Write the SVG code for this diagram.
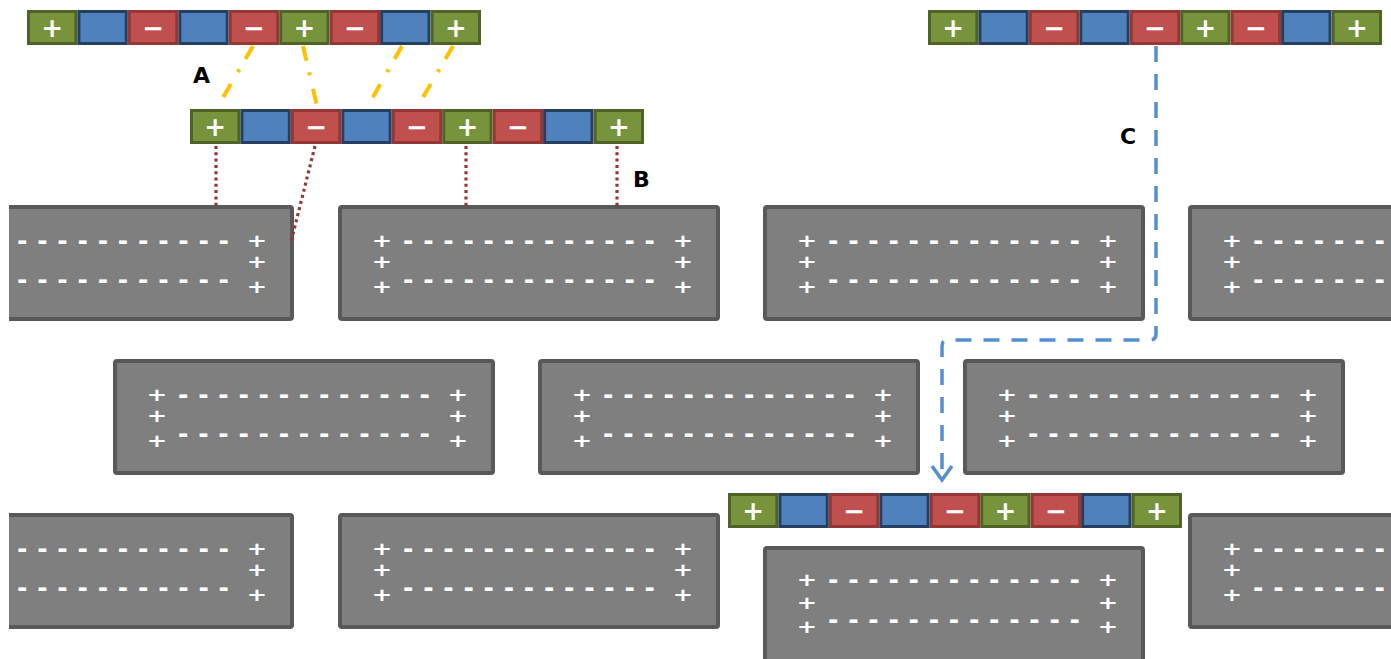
<svg xmlns="http://www.w3.org/2000/svg" width="1391" height="659" viewBox="0 0 1391 659">
<style>
.g{fill:#77933c;stroke:#4f6228;stroke-width:3}
.b{fill:#4f81bd;stroke:#243f60;stroke-width:3}
.r{fill:#c0504d;stroke:#953735;stroke-width:3}
.sym{fill:#fff;font-family:"DejaVu Sans",Verdana,sans-serif;font-weight:bold;font-size:26px;text-anchor:middle;dominant-baseline:central}
.blk{fill:#7f7f7f;stroke:#595959;stroke-width:4}
.bp{fill:#fff;font-family:"DejaVu Sans",Verdana,sans-serif;font-weight:bold;font-size:18px;text-anchor:middle;dominant-baseline:central}
.bd{fill:#fff;font-family:"DejaVu Sans",Verdana,sans-serif;font-weight:bold;font-size:25px;dominant-baseline:central}
.lbl{fill:#000;font-family:"DejaVu Sans",Verdana,sans-serif;font-weight:bold;font-size:22px}
.ca{fill:none;stroke:#ffc000;stroke-width:4;stroke-dasharray:15 12 3 14}
.cb{fill:none;stroke:#953735;stroke-width:3.2;stroke-dasharray:3 3.3}
.cc{fill:none;stroke:#558ed5;stroke-width:3.5}
</style>
<defs>
<clipPath id="clipL"><rect x="9" y="0" width="400" height="659"/></clipPath>
</defs>
<rect x="0" y="0" width="1391" height="659" fill="#fff"/>

<!-- Gray blocks row 1 -->
<g id="block-r1c1" clip-path="url(#clipL)"><g transform="translate(-86,207)">
<rect class="blk" x="0" y="0" width="378" height="112" rx="2"/>
<text class="bp" transform="translate(343,0) scale(1.35,1)"><tspan x="0" y="33">+</tspan><tspan x="0" y="54">+</tspan><tspan x="0" y="79">+</tspan></text>
<text class="bd" x="103" y="33" textLength="212" lengthAdjust="spacing">- - - - - - - - - - -</text>
<text class="bd" x="103" y="72" textLength="212" lengthAdjust="spacing">- - - - - - - - - - -</text>
</g></g>
<g id="block-r1c2" transform="translate(340,207)">
<rect class="blk" x="0" y="0" width="378" height="112" rx="2"/>
<text class="bp" transform="translate(42,0) scale(1.35,1)"><tspan x="0" y="33">+</tspan><tspan x="0" y="54">+</tspan><tspan x="0" y="79">+</tspan></text>
<text class="bp" transform="translate(343,0) scale(1.35,1)"><tspan x="0" y="33">+</tspan><tspan x="0" y="54">+</tspan><tspan x="0" y="79">+</tspan></text>
<text class="bd" x="63" y="33" textLength="252" lengthAdjust="spacing">- - - - - - - - - - - - -</text>
<text class="bd" x="63" y="72" textLength="252" lengthAdjust="spacing">- - - - - - - - - - - - -</text>
</g>
<g id="block-r1c3" transform="translate(765,207)">
<rect class="blk" x="0" y="0" width="378" height="112" rx="2"/>
<text class="bp" transform="translate(42,0) scale(1.35,1)"><tspan x="0" y="33">+</tspan><tspan x="0" y="54">+</tspan><tspan x="0" y="79">+</tspan></text>
<text class="bp" transform="translate(343,0) scale(1.35,1)"><tspan x="0" y="33">+</tspan><tspan x="0" y="54">+</tspan><tspan x="0" y="79">+</tspan></text>
<text class="bd" x="63" y="33" textLength="252" lengthAdjust="spacing">- - - - - - - - - - - - -</text>
<text class="bd" x="63" y="72" textLength="252" lengthAdjust="spacing">- - - - - - - - - - - - -</text>
</g>
<g id="block-r1c4" transform="translate(1190,207)">
<rect class="blk" x="0" y="0" width="378" height="112" rx="2"/>
<text class="bp" transform="translate(42,0) scale(1.35,1)"><tspan x="0" y="33">+</tspan><tspan x="0" y="54">+</tspan><tspan x="0" y="79">+</tspan></text>
<text class="bd" x="63" y="33" textLength="132" lengthAdjust="spacing">- - - - - - -</text>
<text class="bd" x="63" y="72" textLength="132" lengthAdjust="spacing">- - - - - - -</text>
</g>

<!-- Gray blocks row 2 -->
<g id="block-r2c1" transform="translate(115,361)">
<rect class="blk" x="0" y="0" width="378" height="112" rx="2"/>
<text class="bp" transform="translate(42,0) scale(1.35,1)"><tspan x="0" y="33">+</tspan><tspan x="0" y="54">+</tspan><tspan x="0" y="79">+</tspan></text>
<text class="bp" transform="translate(343,0) scale(1.35,1)"><tspan x="0" y="33">+</tspan><tspan x="0" y="54">+</tspan><tspan x="0" y="79">+</tspan></text>
<text class="bd" x="63" y="33" textLength="252" lengthAdjust="spacing">- - - - - - - - - - - - -</text>
<text class="bd" x="63" y="72" textLength="252" lengthAdjust="spacing">- - - - - - - - - - - - -</text>
</g>
<g id="block-r2c2" transform="translate(540,361)">
<rect class="blk" x="0" y="0" width="378" height="112" rx="2"/>
<text class="bp" transform="translate(42,0) scale(1.35,1)"><tspan x="0" y="33">+</tspan><tspan x="0" y="54">+</tspan><tspan x="0" y="79">+</tspan></text>
<text class="bp" transform="translate(343,0) scale(1.35,1)"><tspan x="0" y="33">+</tspan><tspan x="0" y="54">+</tspan><tspan x="0" y="79">+</tspan></text>
<text class="bd" x="63" y="33" textLength="252" lengthAdjust="spacing">- - - - - - - - - - - - -</text>
<text class="bd" x="63" y="72" textLength="252" lengthAdjust="spacing">- - - - - - - - - - - - -</text>
</g>
<g id="block-r2c3" transform="translate(965,361)">
<rect class="blk" x="0" y="0" width="378" height="112" rx="2"/>
<text class="bp" transform="translate(42,0) scale(1.35,1)"><tspan x="0" y="33">+</tspan><tspan x="0" y="54">+</tspan><tspan x="0" y="79">+</tspan></text>
<text class="bp" transform="translate(343,0) scale(1.35,1)"><tspan x="0" y="33">+</tspan><tspan x="0" y="54">+</tspan><tspan x="0" y="79">+</tspan></text>
<text class="bd" x="63" y="33" textLength="252" lengthAdjust="spacing">- - - - - - - - - - - - -</text>
<text class="bd" x="63" y="72" textLength="252" lengthAdjust="spacing">- - - - - - - - - - - - -</text>
</g>

<!-- Gray blocks row 3 -->
<g id="block-r3c1" clip-path="url(#clipL)"><g transform="translate(-86,515)">
<rect class="blk" x="0" y="0" width="378" height="112" rx="2"/>
<text class="bp" transform="translate(343,0) scale(1.35,1)"><tspan x="0" y="33">+</tspan><tspan x="0" y="54">+</tspan><tspan x="0" y="79">+</tspan></text>
<text class="bd" x="103" y="33" textLength="212" lengthAdjust="spacing">- - - - - - - - - - -</text>
<text class="bd" x="103" y="72" textLength="212" lengthAdjust="spacing">- - - - - - - - - - -</text>
</g></g>
<g id="block-r3c2" transform="translate(340,515)">
<rect class="blk" x="0" y="0" width="378" height="112" rx="2"/>
<text class="bp" transform="translate(42,0) scale(1.35,1)"><tspan x="0" y="33">+</tspan><tspan x="0" y="54">+</tspan><tspan x="0" y="79">+</tspan></text>
<text class="bp" transform="translate(343,0) scale(1.35,1)"><tspan x="0" y="33">+</tspan><tspan x="0" y="54">+</tspan><tspan x="0" y="79">+</tspan></text>
<text class="bd" x="63" y="33" textLength="252" lengthAdjust="spacing">- - - - - - - - - - - - -</text>
<text class="bd" x="63" y="72" textLength="252" lengthAdjust="spacing">- - - - - - - - - - - - -</text>
</g>
<g id="block-r3c3" transform="translate(765,548)">
<rect class="blk" x="0" y="0" width="378" height="120" rx="2"/>
<text class="bp" transform="translate(42,0) scale(1.35,1)"><tspan x="0" y="31">+</tspan><tspan x="0" y="54">+</tspan><tspan x="0" y="78">+</tspan></text>
<text class="bp" transform="translate(343,0) scale(1.35,1)"><tspan x="0" y="31">+</tspan><tspan x="0" y="54">+</tspan><tspan x="0" y="78">+</tspan></text>
<text class="bd" x="63" y="31" textLength="252" lengthAdjust="spacing">- - - - - - - - - - - - -</text>
<text class="bd" x="63" y="71" textLength="252" lengthAdjust="spacing">- - - - - - - - - - - - -</text>
</g>
<g id="block-r3c4" transform="translate(1190,515)">
<rect class="blk" x="0" y="0" width="378" height="112" rx="2"/>
<text class="bp" transform="translate(42,0) scale(1.35,1)"><tspan x="0" y="33">+</tspan><tspan x="0" y="54">+</tspan><tspan x="0" y="79">+</tspan></text>
<text class="bd" x="63" y="33" textLength="132" lengthAdjust="spacing">- - - - - - -</text>
<text class="bd" x="63" y="72" textLength="132" lengthAdjust="spacing">- - - - - - -</text>
</g>

<!-- Strips -->
<g id="strip-top-left" transform="translate(27,10)">
<rect class="g" x="1.5" y="1.5" width="47.4" height="32"/>
<rect class="b" x="51.9" y="1.5" width="47.4" height="32"/>
<rect class="r" x="102.4" y="1.5" width="47.4" height="32"/>
<rect class="b" x="152.8" y="1.5" width="47.4" height="32"/>
<rect class="r" x="203.3" y="1.5" width="47.4" height="32"/>
<rect class="g" x="253.7" y="1.5" width="47.4" height="32"/>
<rect class="r" x="304.2" y="1.5" width="47.4" height="32"/>
<rect class="b" x="354.6" y="1.5" width="47.4" height="32"/>
<rect class="g" x="405.1" y="1.5" width="47.4" height="32"/>
<text class="sym" x="25.2" y="18">+</text>
<text class="sym" x="126.1" y="18">−</text>
<text class="sym" x="227" y="18">−</text>
<text class="sym" x="277.4" y="18">+</text>
<text class="sym" x="327.9" y="18">−</text>
<text class="sym" x="428.8" y="18">+</text>
</g>
<g id="strip-middle" transform="translate(190,109)">
<rect class="g" x="1.5" y="1.5" width="47.4" height="32"/>
<rect class="b" x="51.9" y="1.5" width="47.4" height="32"/>
<rect class="r" x="102.4" y="1.5" width="47.4" height="32"/>
<rect class="b" x="152.8" y="1.5" width="47.4" height="32"/>
<rect class="r" x="203.3" y="1.5" width="47.4" height="32"/>
<rect class="g" x="253.7" y="1.5" width="47.4" height="32"/>
<rect class="r" x="304.2" y="1.5" width="47.4" height="32"/>
<rect class="b" x="354.6" y="1.5" width="47.4" height="32"/>
<rect class="g" x="405.1" y="1.5" width="47.4" height="32"/>
<text class="sym" x="25.2" y="18">+</text>
<text class="sym" x="126.1" y="18">−</text>
<text class="sym" x="227" y="18">−</text>
<text class="sym" x="277.4" y="18">+</text>
<text class="sym" x="327.9" y="18">−</text>
<text class="sym" x="428.8" y="18">+</text>
</g>
<g id="strip-top-right" transform="translate(928,10)">
<rect class="g" x="1.5" y="1.5" width="47.4" height="32"/>
<rect class="b" x="51.9" y="1.5" width="47.4" height="32"/>
<rect class="r" x="102.4" y="1.5" width="47.4" height="32"/>
<rect class="b" x="152.8" y="1.5" width="47.4" height="32"/>
<rect class="r" x="203.3" y="1.5" width="47.4" height="32"/>
<rect class="g" x="253.7" y="1.5" width="47.4" height="32"/>
<rect class="r" x="304.2" y="1.5" width="47.4" height="32"/>
<rect class="b" x="354.6" y="1.5" width="47.4" height="32"/>
<rect class="g" x="405.1" y="1.5" width="47.4" height="32"/>
<text class="sym" x="25.2" y="18">+</text>
<text class="sym" x="126.1" y="18">−</text>
<text class="sym" x="227" y="18">−</text>
<text class="sym" x="277.4" y="18">+</text>
<text class="sym" x="327.9" y="18">−</text>
<text class="sym" x="428.8" y="18">+</text>
</g>
<g id="strip-bottom" transform="translate(728,493)">
<rect class="g" x="1.5" y="1.5" width="47.4" height="32"/>
<rect class="b" x="51.9" y="1.5" width="47.4" height="32"/>
<rect class="r" x="102.4" y="1.5" width="47.4" height="32"/>
<rect class="b" x="152.8" y="1.5" width="47.4" height="32"/>
<rect class="r" x="203.3" y="1.5" width="47.4" height="32"/>
<rect class="g" x="253.7" y="1.5" width="47.4" height="32"/>
<rect class="r" x="304.2" y="1.5" width="47.4" height="32"/>
<rect class="b" x="354.6" y="1.5" width="47.4" height="32"/>
<rect class="g" x="405.1" y="1.5" width="47.4" height="32"/>
<text class="sym" x="25.2" y="18">+</text>
<text class="sym" x="126.1" y="18">−</text>
<text class="sym" x="227" y="18">−</text>
<text class="sym" x="277.4" y="18">+</text>
<text class="sym" x="327.9" y="18">−</text>
<text class="sym" x="428.8" y="18">+</text>
</g>

<!-- Connectors -->
<g id="connectors">
<line class="ca" x1="253" y1="46" x2="218" y2="106"/>
<line class="ca" x1="303" y1="46" x2="317" y2="106"/>
<line class="ca" x1="402" y1="46" x2="369" y2="104"/>
<line class="ca" x1="453" y1="46" x2="419" y2="104"/>
<line class="cb" x1="216" y1="146" x2="216" y2="206"/>
<line class="cb" x1="315" y1="146" x2="291" y2="242"/>
<line class="cb" x1="466" y1="146" x2="466" y2="206"/>
<line class="cb" x1="617" y1="146" x2="617" y2="206"/>
<path class="cc" stroke-dasharray="16 12" d="M1156,46 V334 Q1156,340 1150,340 H948 Q942,340 942,346 V479"/>
<polyline class="cc" points="932,466 942,480 952,466"/>
<text class="lbl" x="193" y="83">A</text>
<text class="lbl" x="633" y="187">B</text>
<text class="lbl" x="1120" y="144">C</text>
</g>
</svg>
